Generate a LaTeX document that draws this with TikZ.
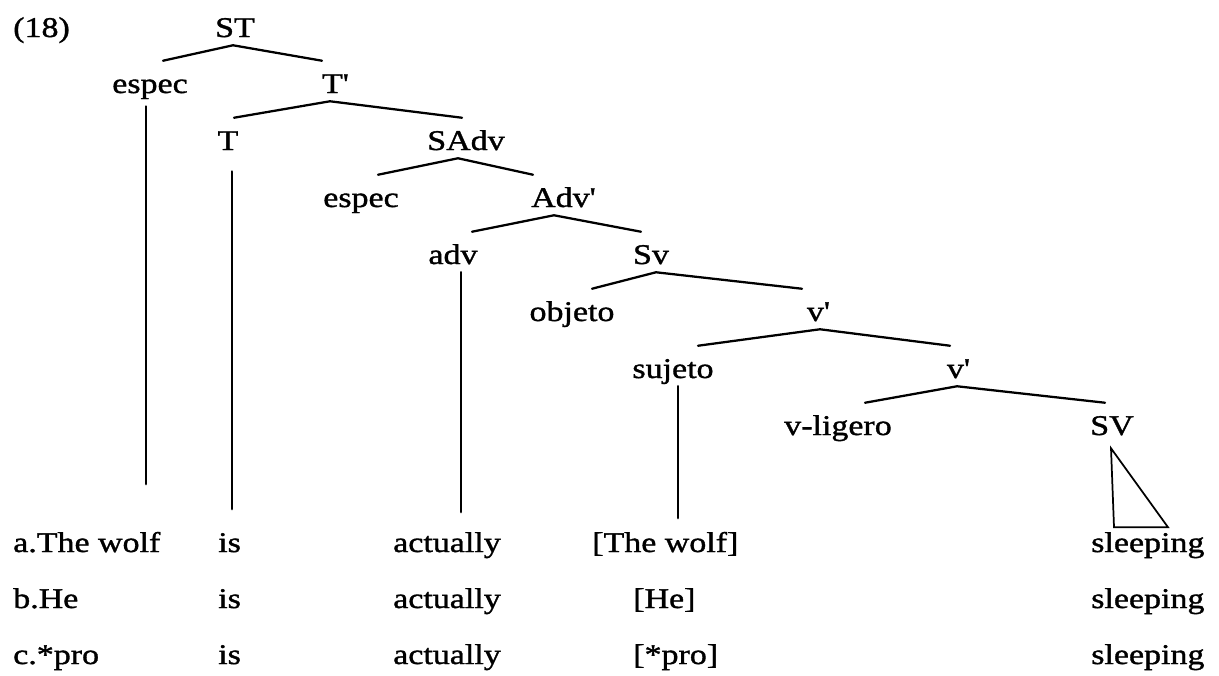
\documentclass[tikz,border=0pt]{standalone}
\usepackage{fontspec}
\setmainfont{Liberation Serif}[FakeStretch=1.19,FakeBold=1.2]
\usetikzlibrary{calc}
\newcommand{\prm}{\textquotesingle}

\begin{document}
\begin{tikzpicture}[x=0.75pt,y=-0.75pt,line cap=round,
  lab/.style={anchor=base,inner xsep=0pt,inner ysep=6pt,text height=18pt,text depth=0pt,font=\fontsize{21.4}{26}\selectfont},
  word/.style={anchor=base west,inner sep=0pt,font=\fontsize{21.4}{26}\selectfont},
  branch/.style={line width=1.7pt,line join=round},
  stem/.style={line width=2.2pt},
  roof/.style={line width=1.3pt,line join=miter}]
\useasboundingbox (0,0) rectangle (1219,675);
% example number
\node[word] (num) at (13,37) {(18)};
% tree labels
\node[lab] (ST) at (235,37) {ST};
\node[lab] (esp1) at (150,93) {espec};
\node[lab] (Tb) at (335,93) {T\prm};
\node[lab] (T) at (228,150) {T};
\node[lab] (SAdv) at (466,150) {SAdv};
\node[lab] (esp2) at (361,207) {espec};
\node[lab] (Advb) at (563,207) {Adv\prm};
\node[lab] (adv) at (453,264) {adv};
\node[lab] (Sv) at (651,264) {Sv};
\node[lab] (obj) at (572,321) {objeto};
\node[lab] (vb1) at (818,321) {v\prm};
\node[lab] (suj) at (673,378) {sujeto};
\node[lab] (vb2) at (958,378) {v\prm};
\node[lab] (vlig) at (838,435) {v-ligero};
\node[lab] (SV) at (1112,435) {SV};
% branches
\draw[branch] ([shift={(13,0)}]esp1.north) -- ([shift={(-2,0)}]ST.south) -- ([shift={(-13,0)}]Tb.north);
\draw[branch] ([shift={(6,0)}]T.north) -- ([shift={(-5,0)}]Tb.south) -- ([shift={(-4,0)}]SAdv.north);
\draw[branch] ([shift={(17,0)}]esp2.north) -- ([shift={(-8,0)}]SAdv.south) -- ([shift={(-30,0)}]Advb.north);
\draw[branch] ([shift={(19,0)}]adv.north) -- ([shift={(-9,0)}]Advb.south) -- ([shift={(-10,0)}]Sv.north);
\draw[branch] ([shift={(20,0)}]obj.north) -- ([shift={(5,0)}]Sv.south) -- ([shift={(-16,0)}]vb1.north);
\draw[branch] ([shift={(25,0)}]suj.north) -- ([shift={(2,0)}]vb1.south) -- ([shift={(-8,0)}]vb2.north);
\draw[branch] ([shift={(27,0)}]vlig.north) -- ([shift={(-1,0)}]vb2.south) -- ([shift={(-7,0)}]SV.north);
% stems down to the words
\coordinate (s1) at (146,484);
\coordinate (s2) at (232,509);
\coordinate (s3) at (461,512);
\coordinate (s4) at (678,518);
\draw[stem,shorten <=4pt] (esp1.south -| s1) -- (s1);
\draw[stem,shorten <=10pt] (T.south -| s2) -- (s2);
\draw[stem] (adv.south -| s3) -- (s3);
\draw[stem] (suj.south -| s4) -- (s4);
% roof under SV
\draw[roof] ([shift={(-1,5)}]SV.south) -- ++(3,79) -- ++(54,0) -- cycle;
% example sentences
\foreach \r/\y in {a/552,b/608,c/664}{
  \node[word] (is\r) at (218,\y) {is};
  \node[word] (act\r) at (393,\y) {actually};
  \node[word] (sl\r) at (1091,\y) {sleeping};
}
\node[word] (subja) at (13,552) {a.The wolf};
\node[word] (subjb) at (13,608) {b.He};
\node[word] (subjc) at (13,664) {c.*pro};
\node[word] (bra) at (592,552) {[The wolf]};
\node[word] (brb) at (633,608) {[He]};
\node[word] (brc) at (633,664) {[*pro]};
\end{tikzpicture}
\end{document}
